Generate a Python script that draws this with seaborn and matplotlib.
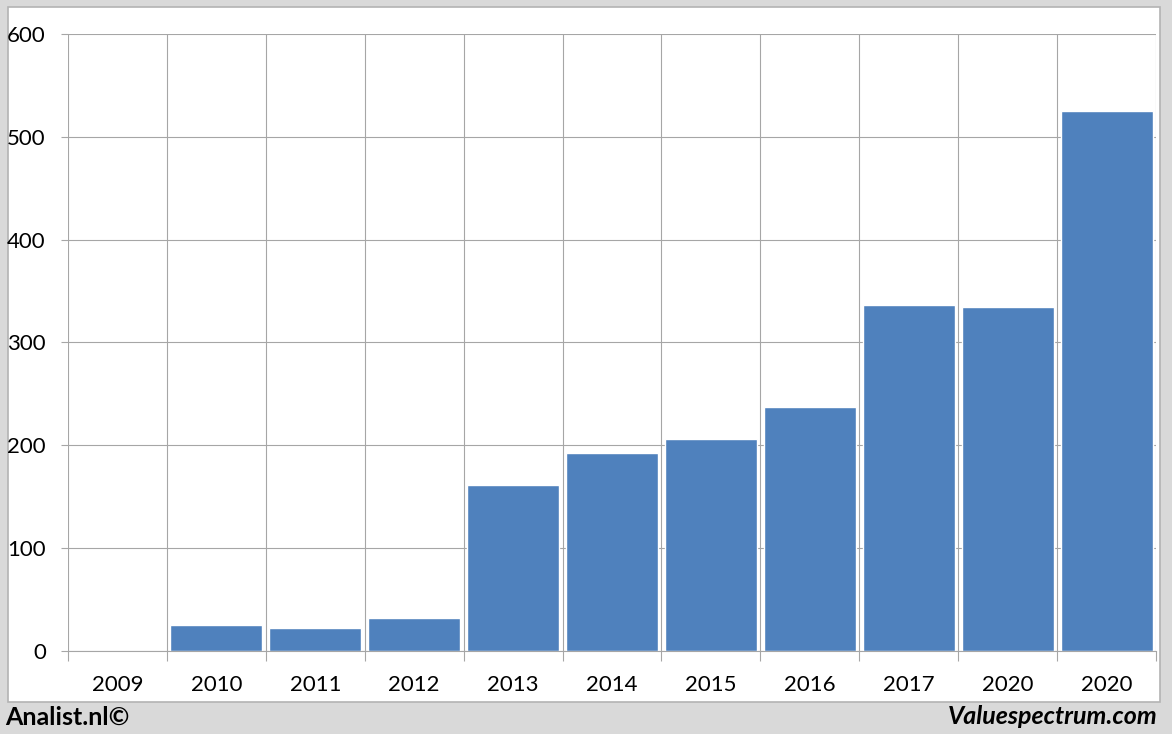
import matplotlib
matplotlib.use("Agg")
import matplotlib.pyplot as plt
import seaborn as sns
import pandas as pd
import numpy as np
from matplotlib.patches import Rectangle

categories = ["2009", "2010", "2011", "2012", "2013", "2014", "2015", "2016", "2017", "2020", "2020"]
values = [0, 25.5, 22.5, 32, 161.5, 192.5, 206, 237, 336.5, 334.5, 525.5]
yticks = [0, 100, 200, 300, 400, 500, 600]

sns.set_theme(style="white")
plt.rcParams['font.family'] = ['Lato', 'DejaVu Sans']

W, H = 1172, 734
fig = plt.figure(figsize=(W / 100, H / 100), dpi=100, facecolor="#d9d9d9")

# white inner panel
fig.patches.append(Rectangle((8 / W, (H - 702) / H), (1160 - 8) / W, (702 - 7) / H,
                             transform=fig.transFigure, facecolor="white",
                             edgecolor="#b3b3b3", linewidth=1.2, zorder=-5))

ax = fig.add_axes([68 / W, (H - 651) / H, (1156 - 68) / W, (651 - 34) / H])
ax.set_zorder(2)
ax.set_facecolor("white")

df = pd.DataFrame({"pos": np.arange(len(categories)), "value": values})
sns.barplot(data=df, x="pos", y="value", color="#4f81bd", saturation=1,
            width=0.93, ax=ax, zorder=3)

ax.set_xlim(-0.5, len(categories) - 0.5)
ax.set_ylim(0, 600)
ax.set_yticks(yticks)
ax.set_yticklabels([str(v) for v in yticks])
ax.set_xticks(np.arange(len(categories)))
ax.set_xticklabels(categories)
ax.set_xticks(np.arange(-0.5, len(categories)), minor=True)

gc = "#a6a6a6"
ax.grid(True, axis="y", which="major", color=gc, linewidth=0.8, zorder=1)
ax.grid(True, axis="x", which="minor", color=gc, linewidth=0.8, zorder=1)
ax.grid(False, axis="x", which="major")
ax.set_axisbelow(True)

ax.tick_params(axis="x", which="major", length=0, pad=17, labelsize=16, labelcolor="black")
ax.tick_params(axis="x", which="minor", length=7.2, width=0.8, color=gc, bottom=True)
ax.tick_params(axis="y", which="major", length=5, width=0.8, color=gc, left=True, pad=11,
               labelsize=16, labelcolor="black")

for s in ["top", "right", "left"]:
    ax.spines[s].set_visible(False)
ax.spines["bottom"].set_color(gc)
ax.spines["bottom"].set_linewidth(0.8)
ax.spines["bottom"].set_zorder(4)

ax.set_xlabel("")
ax.set_ylabel("")

fig.text(5 / W, (H - 717) / H, "Analist.nl©", fontsize=18, fontweight="bold",
         ha="left", va="center", color="black")
fig.text(1158 / W, (H - 717) / H, "Valuespectrum.com", fontsize=18, fontweight="bold",
         fontstyle="italic", ha="right", va="center", color="black")

fig.savefig("out.png", dpi=100, facecolor=fig.get_facecolor())
